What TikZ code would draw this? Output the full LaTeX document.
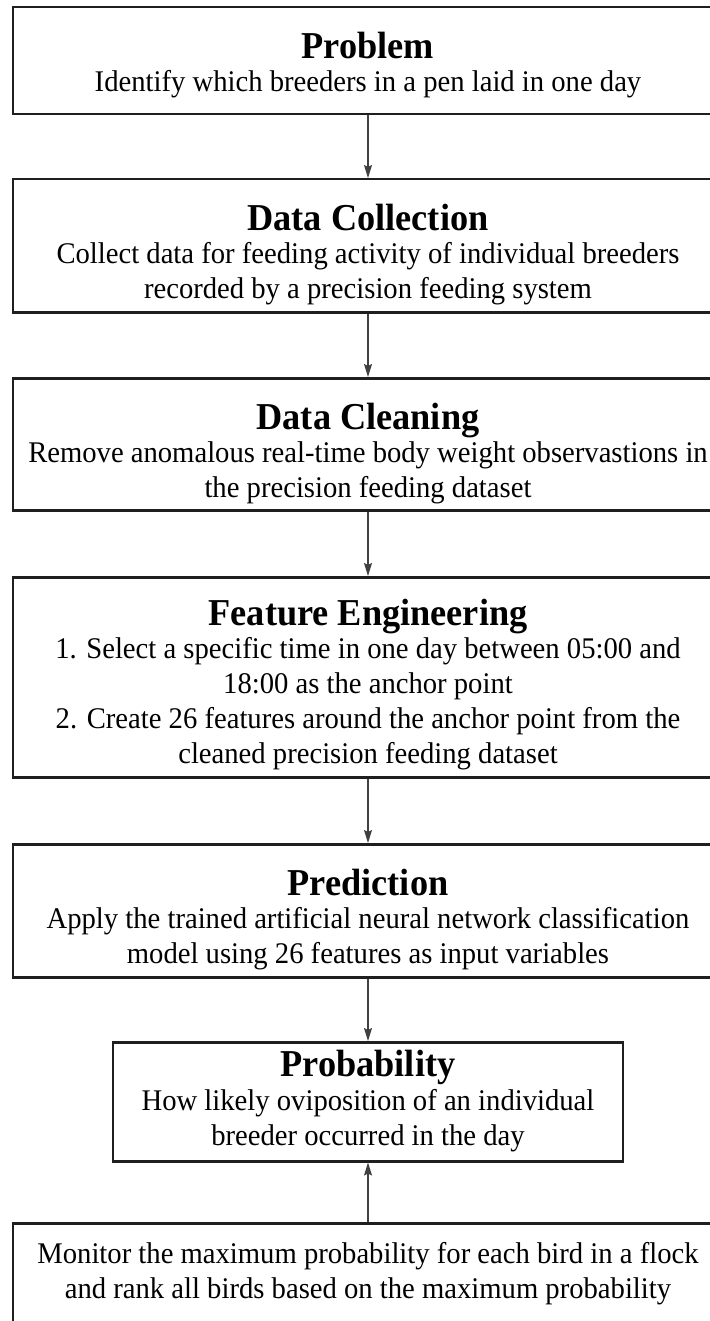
\documentclass[tikz,border=0pt]{standalone}
\usepackage{fontspec}
\setmainfont[FakeStretch=0.955]{Liberation Serif}
\usetikzlibrary{arrows.meta}

% Each stage is a framed box anchored at its top edge; the text block hangs
% from its first baseline (text height) and fills the rest (text depth).
\tikzset{
  stage/.style={draw=black!88, line width=2.5pt, rectangle, anchor=north,
    minimum width=710pt, inner sep=0pt,
    font=\fontsize{30}{35}\selectfont},
  flow/.style={draw=black!75, line width=1.1pt,
    -{Stealth[length=13pt,width=8pt,inset=2pt]}},
}
\newcommand{\stagetitle}[1]{{\fontsize{38}{35}\selectfont\bfseries #1}}
\newcommand{\lines}[1]{\begin{tabular}[t]{@{}c@{}}#1\end{tabular}}

\begin{document}
\begin{tikzpicture}[x=1pt,y=-1pt]
  \fill[white] (0,0) rectangle (709,1321);
  \useasboundingbox (0,0) rectangle (709,1321);

  \node[stage, text height=51pt, text depth=56pt] (problem) at (368,6)
    {\lines{\stagetitle{Problem}\\[-2pt]
     Identify which breeders in a pen laid in one day}};

  \node[stage, text height=51pt, text depth=82pt] (collect) at (368,178)
    {\lines{\stagetitle{Data Collection}\\[-2pt]
     Collect data for feeding activity of individual breeders\\
     recorded by a precision feeding system}};

  \node[stage, text height=51pt, text depth=81pt] (clean) at (368,377)
    {\lines{\stagetitle{Data Cleaning}\\[-2pt]
     Remove anomalous real-time body weight observastions in\\
     the precision feeding dataset}};

  \node[stage, text height=48pt, text depth=152pt] (features) at (368,576)
    {\lines{\stagetitle{Feature Engineering}\\[-2pt]
     1. Select a specific time in one day between 05:00 and\\
     18:00 as the anchor point\\
     2. Create 26 features around the anchor point from the\\
     cleaned precision feeding dataset}};

  \node[stage, text height=51pt, text depth=82pt] (predict) at (368,843)
    {\lines{\stagetitle{Prediction}\\[-2pt]
     Apply the trained artificial neural network classification\\
     model using 26 features as input variables}};

  \node[stage, minimum width=510pt, text height=34pt, text depth=85pt] (prob) at (368,1041)
    {\lines{\stagetitle{Probability}\\[-1pt]
     How likely oviposition of an individual\\
     breeder occurred in the day}};

  \node[stage, text height=40pt, text depth=100pt] (rank) at (368,1222)
    {\lines{Monitor the maximum probability for each bird in a flock\\
     and rank all birds based on the maximum probability}};

  \draw[flow] (problem.south) -- (collect.north);
  \draw[flow] (collect.south) -- (clean.north);
  \draw[flow] (clean.south) -- (features.north);
  \draw[flow] (features.south) -- (predict.north);
  \draw[flow] (predict.south) -- (prob.north);
  \draw[flow] (rank.north) -- (prob.south);
\end{tikzpicture}
\end{document}
